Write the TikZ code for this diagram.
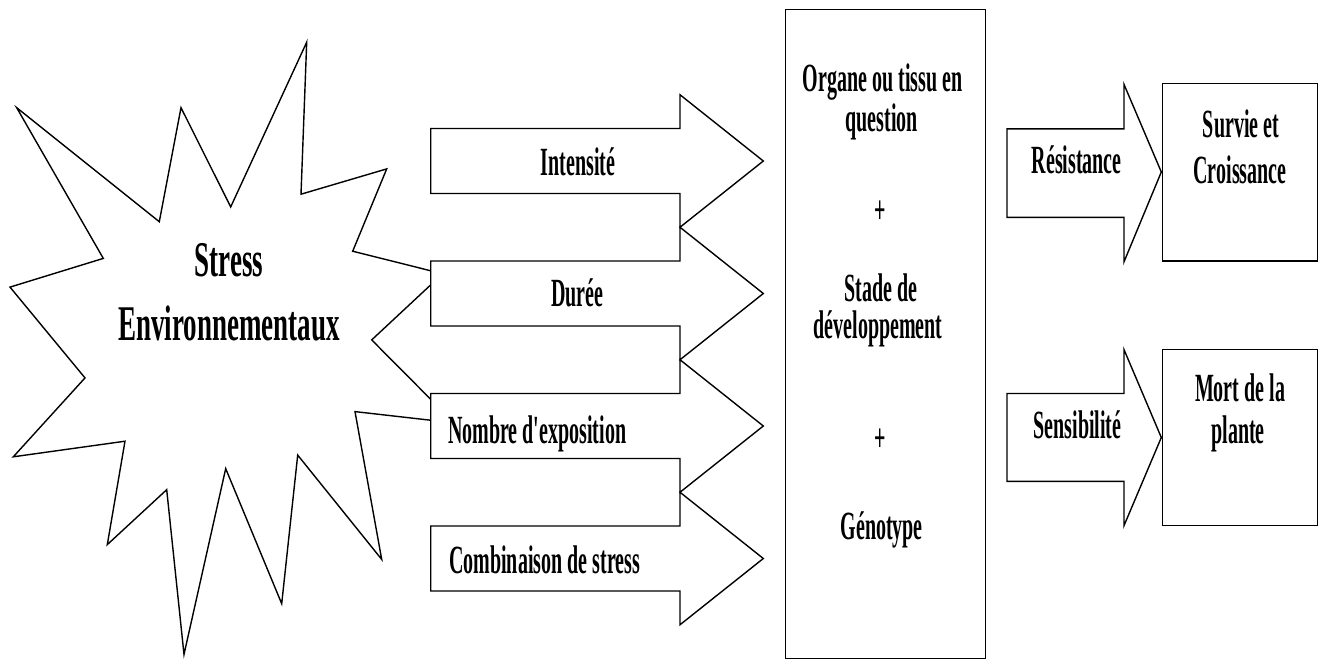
\documentclass[tikz,border=0pt]{standalone}
\usepackage{fontspec}
\setmainfont{Liberation Serif}
\begin{document}
\begin{tikzpicture}[x=1pt,y=-1pt,
  outline/.style={draw=black, line width=1.4pt, line join=miter},
  bigarrow/.style={outline, fill=white},
  lbl/.style={font=\fontsize{20}{24}\selectfont\bfseries, yscale=2, inner sep=0pt, anchor=base},
  big/.style={font=\fontsize{27}{32}\selectfont\bfseries, yscale=1.85, inner sep=0pt, anchor=base}]
\useasboundingbox (0,0) rectangle (1321,662);
% starburst
\draw[outline, fill=white] (16.7,107.7) -- (159.3,221.7) -- (181,107.7) -- (230.7,206.9) -- (306.7,42.2) -- (301,194.2) -- (386.7,168.9) -- (352.7,251.2) -- (434,271.6) -- (434,281.8) -- (371.7,339.9) -- (434,402.6) -- (434,420.6) -- (355,411.6) -- (381.7,559.4) -- (297.7,455.1) -- (281.7,603.7) -- (225.7,468.6) -- (184,654.4) -- (166.7,489.7) -- (107.3,544.6) -- (125,441.2) -- (13.3,456.8) -- (85,377.9) -- (10,287.1) -- (103.3,258.4) -- cycle;
% left arrows
\foreach \c in {161,293.5,426,558.5} {
  \draw[bigarrow] (430.7,\c-32.5) -- (680,\c-32.5) -- (680,\c-66.25) -- (763.3,\c) -- (680,\c+66.25) -- (680,\c+32.5) -- (430.7,\c+32.5) -- cycle;
}
% central box
\draw[outline] (785.2,9.3) rectangle (985.3,658.6);
% right arrows
\draw[bigarrow] (1007,128.8) -- (1124,128.8) -- (1124,84.4) -- (1161.3,172) -- (1124,261.8) -- (1124,217.4) -- (1007,217.4) -- cycle;
\draw[bigarrow] (1007,393.5) -- (1124,393.5) -- (1124,349.6) -- (1161.3,437.5) -- (1124,525.6) -- (1124,481.3) -- (1007,481.3) -- cycle;
% right boxes
\draw[outline] (1162.3,83.6) rectangle (1317.6,261);
\draw[outline] (1162.3,349.6) rectangle (1317.6,525.6);
% texts
\node[big] (stress) at (229,276.7) {Stress};
\node[big] (env) at (229,340) {Environnementaux};
\node[lbl] (int) at (578,175) {Intensité};
\node[lbl] (dur) at (577.5,306.5) {Durée};
\node[lbl, anchor=base west] (nbr) at (448,443) {Nombre d\textquotesingle exposition};
\node[lbl, anchor=base west] (comb) at (449,573) {Combinaison de stress};
\node[lbl] (org) at (882.5,91.7) {Organe ou tissu en};
\node[lbl] (quest) at (881.7,131.7) {question};
\node[lbl] (plus1) at (880,223) {+};
\node[lbl] (stade) at (880.8,301.7) {Stade de};
\node[lbl] (dev) at (878,338.3) {développement};
\node[lbl] (plus2) at (880,451) {+};
\node[lbl] (geno) at (881.7,539.3) {Génotype};
\node[lbl] (res) at (1076.7,173.3) {Résistance};
\node[lbl] (surv) at (1241,137) {Survie et};
\node[lbl] (crois) at (1240,183.3) {Croissance};
\node[lbl] (sens) at (1077.5,438.3) {Sensibilité};
\node[lbl] (mort) at (1240,401.7) {Mort de la};
\node[lbl] (plante) at (1238,443) {plante};
\end{tikzpicture}
\end{document}
